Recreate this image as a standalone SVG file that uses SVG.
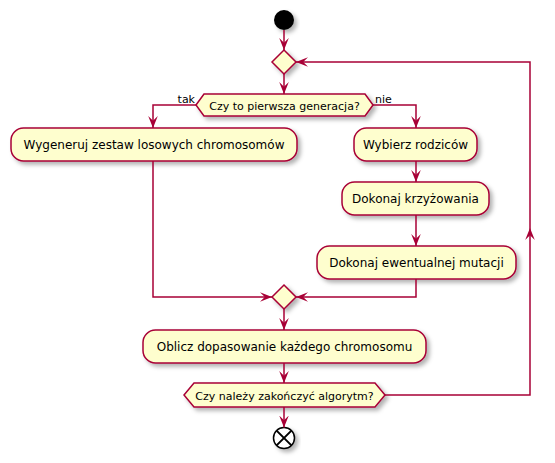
<svg xmlns="http://www.w3.org/2000/svg" width="555" height="463" viewBox="0 0 555 463">
<defs>
<filter id="sh" x="-20%" y="-20%" width="150%" height="160%">
<feDropShadow dx="3" dy="3" stdDeviation="2" flood-color="#000" flood-opacity="0.3"/>
</filter>
<marker id="ah" markerUnits="userSpaceOnUse" markerWidth="12" markerHeight="10" refX="10" refY="4" orient="auto" viewBox="0 0 10 8">
<path d="M0,0 L10,4 L0,8 L4,4 Z" fill="#A80036"/>
</marker>
<style>
.n{fill:#FEFECE;stroke:#A80036;stroke-width:1.5;filter:url(#sh)}
.c{fill:none;stroke:#A80036;stroke-width:1.5;marker-end:url(#ah)}
.t{font-family:"DejaVu Sans",sans-serif;font-size:12px;fill:#000;text-anchor:middle}
.h{font-family:"DejaVu Sans",sans-serif;font-size:11px;fill:#000;text-anchor:middle}
.l{font-family:"DejaVu Sans",sans-serif;font-size:11px;fill:#000}
</style>
</defs>
<g id="start"><circle cx="284" cy="20" r="10" fill="#000" filter="url(#sh)"/></g>
<g id="merge1"><polygon class="n" points="284,50 296,62 284,74 272,62"/></g>
<g id="dec1"><polygon class="n" points="196,105 204,94 365,94 373,105 365,116 204,116"/><text class="h" x="284.5" y="109.5">Czy to pierwsza generacja?</text></g>
<g id="a1"><rect class="n" x="11" y="128" width="286" height="33" rx="12.5"/><text class="t" x="154" y="149">Wygeneruj zestaw losowych chromosomów</text></g>
<g id="a2"><rect class="n" x="354" y="128" width="123" height="33" rx="12.5"/><text class="t" x="415.5" y="149">Wybierz rodziców</text></g>
<g id="a3"><rect class="n" x="342" y="182" width="147" height="33" rx="12.5"/><text class="t" x="415.5" y="203">Dokonaj krzyżowania</text></g>
<g id="a4"><rect class="n" x="317" y="246" width="199" height="33" rx="12.5"/><text class="t" x="416.5" y="267">Dokonaj ewentualnej mutacji</text></g>
<g id="merge2"><polygon class="n" points="284,285 296,297 284,309 272,297"/></g>
<g id="a5"><rect class="n" x="143" y="330" width="283" height="33" rx="12.5"/><text class="t" x="284.5" y="351">Oblicz dopasowanie każdego chromosomu</text></g>
<g id="dec2"><polygon class="n" points="184,395 194,383 375,383 385,395 375,407 194,407"/><text class="h" x="284.5" y="399.5">Czy należy zakończyć algorytm?</text></g>
<g id="end"><circle cx="284" cy="438" r="10.5" fill="#fff" stroke="#000" stroke-width="1.5" filter="url(#sh)"/><path d="M276.6,430.6 L291.4,445.4 M291.4,430.6 L276.6,445.4" stroke="#000" stroke-width="2"/></g>
<g id="connectors">
<path class="c" d="M284,30 V50"/>
<path class="c" d="M284,74 V94"/>
<path class="c" d="M196,105 H153 V128"/>
<path class="c" d="M373,105 H416 V128"/>
<path class="c" d="M416,161 V182"/>
<path class="c" d="M416,215 V246"/>
<path class="c" d="M416,279 V297 H296"/>
<path class="c" d="M153,161 V297 H272"/>
<path class="c" d="M284,309 V330"/>
<path class="c" d="M284,363 V383"/>
<path class="c" d="M284,407 V427.5"/>
<path class="c" d="M385,395 H530 V228"/>
<path class="c" d="M530,228 V62 H296"/>
<text class="l" x="195" y="103" text-anchor="end">tak</text>
<text class="l" x="375" y="103">nie</text>
</g>
</svg>
